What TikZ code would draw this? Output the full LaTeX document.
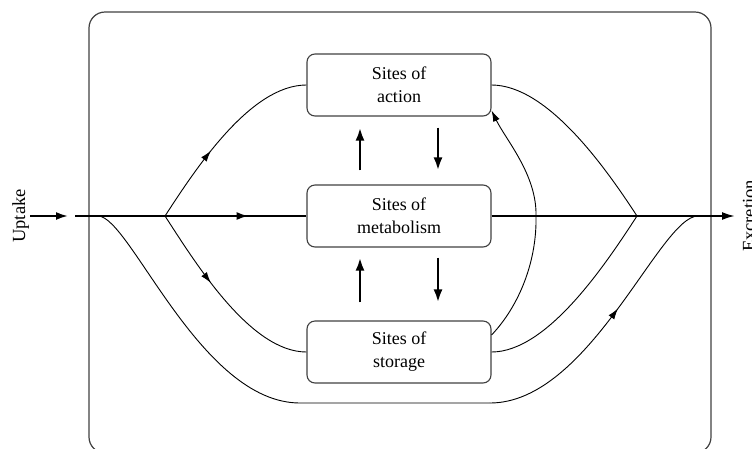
\documentclass[tikz,border=0pt]{standalone}
\usepackage{fontspec}
\setmainfont{Liberation Serif}
\usetikzlibrary{arrows.meta,decorations.markings}
\tikzset{
  site/.style={draw=black!75, line width=1.1pt, rounded corners=8pt, minimum width=184pt, minimum height=62pt, align=center, font=\fontsize{18}{23}\selectfont, inner sep=0pt},
  flow/.style={line width=0.9pt},
  mainflow/.style={line width=2pt},
  vert/.style={line width=2.6pt, -{Latex[length=13pt,width=9pt]}},
  midarrow/.style={postaction={decorate}, decoration={markings, mark=at position #1 with {\arrow{Latex[length=11pt,width=7pt]}}}},
  bigmidarrow/.style={postaction={decorate}, decoration={markings, mark=at position #1 with {\arrow{Latex[length=12pt,width=8pt]}}}},
  sidelabel/.style={font=\fontsize{18.5}{22}\selectfont, rotate=90, anchor=base, inner sep=0pt},
  frame/.style={draw=black!75, line width=1.2pt, rounded corners=16pt}
}
\begin{document}
\begin{tikzpicture}[x=1pt,y=-1pt]
\useasboundingbox (0,0) rectangle (752,448);
\clip (0,0) rectangle (752,448);
\draw[frame] (89,12) rectangle (711,453);

\node[site] (action) at (399,85) {Sites of\\action};
\node[site] (metab) at (399,216) {Sites of\\metabolism};
\node[site] (storage) at (399,352) {Sites of\\storage};

\node[sidelabel] (uptake) at (25,216) {Uptake};
\node[sidelabel] (excretion) at (755,216) {Excretion};

\coordinate (upS) at (30,216);
\coordinate (upE) at (68,216);
\coordinate (lineS) at (75,216);
\coordinate (inL) at (98,216);
\coordinate (split) at (165,216);
\coordinate (join) at (637,216);
\coordinate (inR) at (698,216);
\coordinate (exc) at (735,216);
\coordinate (botL) at (300,403);
\coordinate (botR) at (490,403);
\coordinate (arcM) at (536,216);

\draw[mainflow, -{Latex[length=12pt,width=8pt]}] (upS) -- (upE);
\draw[mainflow, bigmidarrow=0.75] (lineS) -- (metab.west);
\draw[mainflow, -{Latex[length=13pt,width=8pt]}] (metab.east) -- (exc);

\draw[flow, midarrow=0.4] (split) .. controls (195,170) and (250,85) .. (action.west);
\draw[flow, midarrow=0.4] (split) .. controls (195,262) and (250,352) .. (storage.west);
\draw[flow] (action.east) .. controls (548,85) and (607,170) .. (join);
\draw[flow] (storage.east) .. controls (548,352) and (607,262) .. (join);
\draw[flow] (inL) .. controls (130,216) and (200,403) .. (botL) -- (botR);
\draw[flow, midarrow=0.57] (botR) .. controls (590,403) and (660,216) .. (inR);
\draw[flow, -{Latex[length=11pt,width=7pt]}] ([yshift=17pt]storage.east) .. controls (520,305) and (537,260) .. (arcM) .. controls (537,175) and (506,140) .. ([yshift=6pt]action.south east);

\draw[vert, shorten <=14pt, shorten >=11pt] ([xshift=-39pt]metab.north) -- ([xshift=-39pt]action.south);
\draw[vert, shorten <=11pt, shorten >=14pt] ([xshift=39pt]action.south) -- ([xshift=39pt]metab.north);
\draw[vert, shorten <=18pt, shorten >=10pt] ([xshift=-39pt]storage.north) -- ([xshift=-39pt]metab.south);
\draw[vert, shorten <=10pt, shorten >=18pt] ([xshift=39pt]metab.south) -- ([xshift=39pt]storage.north);
\end{tikzpicture}
\end{document}
